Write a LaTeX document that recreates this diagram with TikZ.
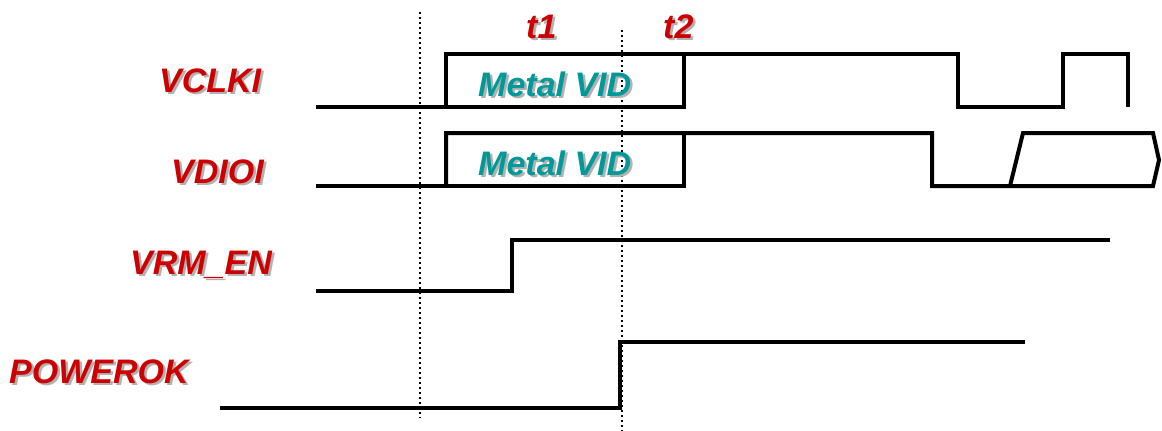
\documentclass[tikz,border=0pt]{standalone}
\usepackage{fontspec}
\setmainfont{Liberation Sans}
\begin{document}
\begin{tikzpicture}[x=1pt,y=-1pt,
  sig/.style={line width=4pt,line join=miter,line cap=butt},
  guide/.style={line width=1.6pt,dash pattern=on 1.6pt off 3.4pt},
  lbl/.style={anchor=base west,inner sep=0pt,font=\fontsize{34}{40}\selectfont\bfseries\itshape},
  red lbl/.style={lbl,text=sigred},
  teal lbl/.style={lbl,text=sigteal},
  shadow lbl/.style={lbl,text=black!30}]
\definecolor{sigred}{RGB}{204,0,0}
\definecolor{sigteal}{RGB}{0,153,153}
\useasboundingbox (0,0) rectangle (1162,431);
% guides
\coordinate (g1a) at (420,12); \coordinate (g1b) at (420,418);
\coordinate (g2a) at (622,30); \coordinate (g2b) at (622,431);
\draw[guide] (g1a) -- (g1b);
\draw[guide] (g2a) -- (g2b);
% labels with shadows
\foreach \n/\x/\y/\t in {vclki/159/92/VCLKI, vdioi/171/183/VDIOI, vrmen/130/274/VRM\_EN, pwrok/9/383/POWEROK, tone/526/38/t1, ttwo/663/38/t2}{
  \node[shadow lbl] (\n-s) at (\x+2.5,\y+2.5) {\t};
  \node[red lbl] (\n) at (\x,\y) {\t};
}
\foreach \n/\y in {mvidA/96, mvidB/175}{
  \node[shadow lbl] (\n-s) at (480.5,\y+2.5) {Metal VID};
  \node[teal lbl] (\n) at (478,\y) {Metal VID};
}
% VCLKI
\draw[sig] (316,107) -- (684,107) -- (684,54);
\draw[sig] (446,107) -- (446,54) -- (958,54) -- (958,107) -- (1063,107) -- (1063,54) -- (1128,54) -- (1128,107);
% VDIOI
\draw[sig] (316,186) -- (684,186) -- (684,133);
\draw[sig] (446,186) -- (446,133) -- (932,133) -- (932,186) -- (1153,186) -- (1159,160) -- (1153,133) -- (1023,133) -- (1010,186);
% VRM_EN
\draw[sig] (316,291) -- (512,291) -- (512,240) -- (1110,240);
% POWEROK
\draw[sig] (220,408) -- (620,408) -- (620,342) -- (1025,342);
\end{tikzpicture}
\end{document}
